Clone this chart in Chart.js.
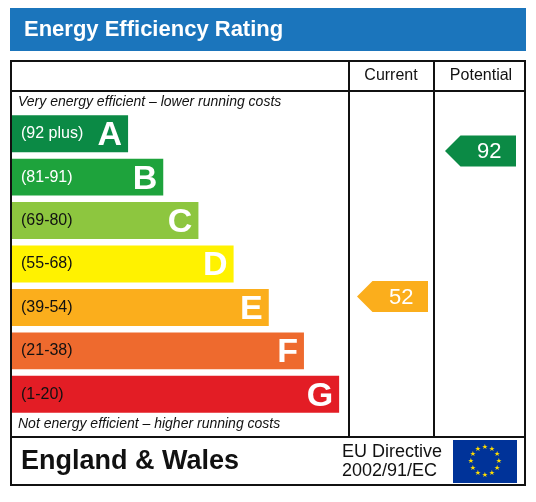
<!DOCTYPE html>
<html><head><meta charset="utf-8">
<script src="https://cdn.jsdelivr.net/npm/chart.js@4"></script>
<style>html,body{margin:0;padding:0;background:#fff}#c{display:block}</style>
</head><body>
<canvas id="c" width="536" height="502"></canvas>
<script>
const bands = ['A','B','C','D','E','F','G'];
const ranges = ['(92 plus)','(81-91)','(69-80)','(55-68)','(39-54)','(21-38)','(1-20)'];
const lows = [92,81,69,55,39,21,1];
const highs = [100,91,80,68,54,38,20];
const barLengths = [1,2,3,4,5,6,7];
const colors = ['#0b8a45','#1ea33c','#8dc63f','#fff200','#fbae1c','#ee6a2e','#e31d25'];
const labelColors = ['#fff','#fff','#111','#111','#111','#111','#111'];
const currentRating = 52;
const potentialRating = 92;

function bandOf(v){for(let i=0;i<bands.length;i++){if(v>=lows[i]&&v<=highs[i])return i;}return 6;}
function idxOf(v){const b=bandOf(v);return b+0.4-(v-lows[b])/(highs[b]-lows[b]+1)*0.8;}

function arrow(ctx,x0,x1,yc,h,col,txt){
  ctx.fillStyle=col;ctx.beginPath();
  ctx.moveTo(x0,yc);ctx.lineTo(x0+h/2,yc-h/2);ctx.lineTo(x1,yc-h/2);ctx.lineTo(x1,yc+h/2);ctx.lineTo(x0+h/2,yc+h/2);ctx.closePath();ctx.fill();
  ctx.fillStyle='#fff';ctx.font='22px "Liberation Sans", Arial';ctx.textAlign='center';ctx.textBaseline='middle';
  ctx.fillText(txt,(x0+h/2+x1)/2+1,yc+1);
}

const deco={id:'deco',
 beforeDraw(ch){const c=ch.ctx;c.save();
  c.fillStyle='#fff';c.fillRect(0,0,536,502);
  c.fillStyle='#1b75bc';c.fillRect(10,8,516,43);
  c.fillStyle='#fff';c.font='bold 22px "Liberation Sans", Arial';c.textBaseline='middle';c.textAlign='left';
  c.fillText('Energy Efficiency Rating',24,30);
  c.strokeStyle='#111';c.lineWidth=2;
  c.strokeRect(11,61,514,424);
  c.beginPath();c.moveTo(11,91);c.lineTo(525,91);c.moveTo(11,437);c.lineTo(525,437);
  c.moveTo(349,61);c.lineTo(349,437);c.moveTo(434,61);c.lineTo(434,437);c.stroke();
  c.fillStyle='#111';c.font='16px "Liberation Sans", Arial';c.textAlign='center';
  c.fillText('Current',391,76);c.fillText('Potential',481,76);
  c.textAlign='left';c.font='italic 14px "Liberation Sans", Arial';
  c.fillText('Very energy efficient \u2013 lower running costs',18,102);
  c.fillText('Not energy efficient \u2013 higher running costs',18,424);
  c.font='bold 27px "Liberation Sans", Arial';c.fillText('England & Wales',21,462);
  c.font='18px "Liberation Sans", Arial';c.fillText('EU Directive',342,452);c.fillText('2002/91/EC',342,471);
  c.fillStyle='#003399';c.fillRect(453,440,64,43);
  c.fillStyle='#ffdd00';c.font='7px "DejaVu Sans"';c.textAlign='center';
  for(let k=0;k<12;k++){const a=k*Math.PI/6;c.fillText('\u2605',485+14*Math.sin(a),461.5-14*Math.cos(a));}
  c.restore();},
 afterDatasetsDraw(ch){const c=ch.ctx,y=ch.scales.y,x=ch.scales.x;c.save();
  c.textBaseline='middle';
  bands.forEach((b,i)=>{const yc=y.getPixelForValue(i),xr=x.getPixelForValue(barLengths[i]);
    c.fillStyle=labelColors[i];c.font='16px "Liberation Sans", Arial';c.textAlign='left';
    c.fillText(ranges[i],21,yc);
    c.fillStyle='#fff';c.font='bold 34px "Liberation Sans", Arial';c.textAlign='right';
    c.fillText(b,xr-6,yc+2);
  });
  arrow(c,357,428,y.getPixelForValue(idxOf(currentRating)),31,colors[bandOf(currentRating)],String(currentRating));
  arrow(c,445,516,y.getPixelForValue(idxOf(potentialRating)),31,colors[bandOf(potentialRating)],String(potentialRating));
  c.restore();}
};

new Chart(document.getElementById('c'),{
 type:'bar',
 data:{labels:bands,datasets:[{data:barLengths,base:-2.3,backgroundColor:colors,barPercentage:0.85,categoryPercentage:1,borderWidth:0}]},
 options:{indexAxis:'y',responsive:false,animation:false,
  layout:{padding:{left:12,right:21,top:112,bottom:86}},
  plugins:{legend:{display:false},tooltip:{enabled:false}},
  scales:{x:{display:false,min:-2.3,max:12},y:{display:false,grid:{display:false}}}},
 plugins:[deco]
});
</script>
</body></html>
